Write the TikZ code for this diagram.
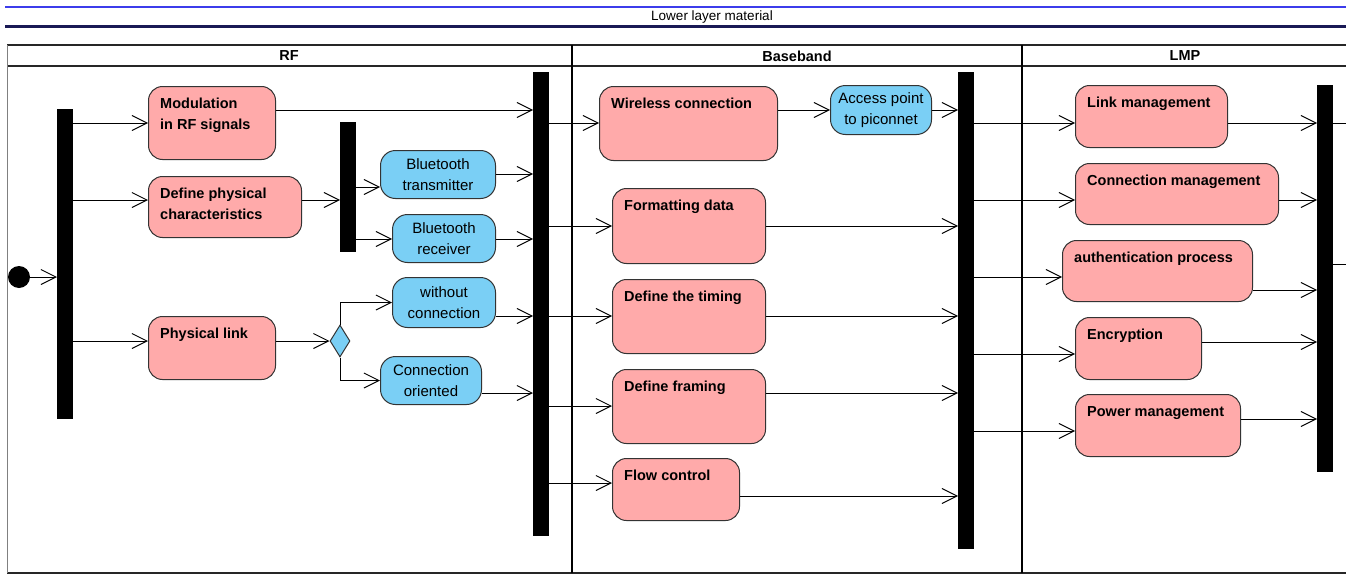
\documentclass[tikz,border=0pt]{standalone}
\usepackage{fontspec}
\setmainfont{Liberation Sans}
\usetikzlibrary{arrows.meta,shapes.geometric}
\definecolor{actpink}{RGB}{255,170,170}
\definecolor{objblue}{RGB}{122,207,245}
\definecolor{edgegray}{RGB}{51,51,51}
\definecolor{titleblue}{RGB}{60,60,235}
\definecolor{titlenavy}{RGB}{25,25,85}
\tikzset{
  act/.style={draw=edgegray, line width=1pt, fill=actpink, rounded corners=14pt, anchor=north west, inner sep=0pt},
  acttext/.style={anchor=north west, inner sep=0pt, align=left, font=\fontsize{14.5}{20.5}\selectfont\bfseries},
  obj/.style={draw=edgegray, line width=1pt, fill=objblue, rounded corners=15pt, anchor=north west, inner sep=0pt, align=center, font=\fontsize{15}{21}\selectfont},
  bar/.style={fill=black, anchor=north west, minimum width=16pt, inner sep=0pt},
  lanehead/.style={font=\fontsize{14.5}{17}\selectfont\bfseries},
  flow/.style={line width=1pt, -{Straight Barb[length=15pt,width=15pt]}},
  plain/.style={line width=1pt},
}
\begin{document}
\begin{tikzpicture}[x=1pt,y=-1pt]
    \useasboundingbox (0,0) rectangle (1351,578);
    \draw[titleblue, line width=2.5pt] (5,7) -- (1346,7);
    \node[font=\fontsize{13.5}{16}\selectfont] (title) at (712,17) {Lower layer material};
    \draw[titlenavy, line width=3pt] (5,27) -- (1346,27);
    \draw[black!85, line width=2pt] (7,45) -- (1346,45);
    \draw[black!85, line width=2.5pt] (7,66) -- (1346,66);
    \draw[black!85, line width=2pt] (7,573) -- (1346,573);
    \draw[black!50, line width=1pt] (7,45) -- (7,573);
    \draw[black, line width=2pt] (572,45) -- (572,573);
    \draw[black, line width=2pt] (1022,45) -- (1022,573);
    \node[lanehead] (rf) at (289,56) {RF};
    \node[lanehead] (bb) at (797,56) {Baseband};
    \node[lanehead] (lmp) at (1185,56) {LMP};

    \node[circle, fill=black, minimum size=22pt, inner sep=0pt] (start) at (19,277) {};
    \node[bar, minimum height=310pt] (bar1) at (57,109) {};
    \node[bar, minimum height=130pt] (bar3) at (340,122) {};
    \node[bar, minimum height=464pt] (bar2) at (533,72) {};
    \node[bar, minimum height=477pt] (bar4) at (958,72) {};
    \node[bar, minimum height=387pt] (bar5) at (1317,85) {};

    \node[act, minimum width=127pt, minimum height=73pt] (mod) at (148,86) {};
    \node[act, minimum width=153pt, minimum height=61pt] (dpc) at (148,176) {};
    \node[act, minimum width=127pt, minimum height=63pt] (pl) at (148,316) {};
    \node[act, minimum width=178pt, minimum height=74pt] (wc) at (599,86) {};
    \node[act, minimum width=153pt, minimum height=75pt] (fd) at (612,188) {};
    \node[act, minimum width=153pt, minimum height=74pt] (dt) at (612,279) {};
    \node[act, minimum width=153pt, minimum height=74pt] (dfr) at (612,369) {};
    \node[act, minimum width=127pt, minimum height=62pt] (fc) at (612,458) {};
    \node[act, minimum width=152pt, minimum height=62pt] (lm) at (1075,85) {};
    \node[act, minimum width=203pt, minimum height=61pt] (cm) at (1075,163) {};
    \node[act, minimum width=190pt, minimum height=61pt] (ap) at (1062,240) {};
    \node[act, minimum width=126pt, minimum height=62pt] (enc) at (1075,317) {};
    \node[act, minimum width=165pt, minimum height=62pt] (pm) at (1075,394) {};
    \foreach \n/\t in {mod/{Modulation\\in RF signals}, dpc/{Define physical\\characteristics}, pl/{Physical link},
        wc/{Wireless connection}, fd/{Formatting data}, dt/{Define the timing}, dfr/{Define framing}, fc/{Flow control},
        lm/{Link management}, cm/{Connection management}, ap/{authentication process}, enc/{Encryption}, pm/{Power management}}
        \node[acttext] (\n-t) at ([xshift=12pt,yshift=-12pt]\n.north west) {\t};

    \node[obj, minimum width=115pt, minimum height=48pt] (btt) at (380,150) {Bluetooth\\transmitter};
    \node[obj, minimum width=103pt, minimum height=48pt] (btr) at (392,214) {Bluetooth\\receiver};
    \node[obj, minimum width=103pt, minimum height=50pt] (woc) at (392,277) {without\\connection};
    \node[obj, minimum width=101pt, minimum height=48pt] (co) at (380,356) {Connection\\oriented};
    \node[obj, minimum width=101pt, minimum height=49pt] (acp) at (830,85) {Access point\\to piconnet};
    \node[diamond, aspect=0.6, draw=edgegray, line width=1pt, fill=objblue, minimum width=20pt, minimum height=32pt, inner sep=0pt] (dec) at (340,341) {};

    \coordinate (out1) at (1346,123);
    \coordinate (out2) at (1346,264);

    \draw[flow] (start.east) -- (bar1.west |- start.east);
    \foreach \b/\y in {mod/123, dpc/200, pl/341}
        \draw[flow] (bar1.east |- 0,\y) -- (\b.west |- 0,\y);
    \draw[flow] (mod.east |- 0,110) -- (bar2.west |- 0,110);
    \draw[flow] (dpc.east |- 0,200) -- (bar3.west |- 0,200);
    \draw[flow] (bar3.east |- 0,187) -- (btt.west |- 0,187);
    \draw[flow] (bar3.east |- 0,239) -- (btr.west |- 0,239);
    \draw[flow] (pl.east |- dec.west) -- (dec.west);
    \draw[flow] (dec.north) |- (woc.west);
    \draw[flow] (dec.south) |- (co.west);
    \foreach \b/\y in {btt/174, btr/239, woc/316, co/393}
        \draw[flow] (\b.east |- 0,\y) -- (bar2.west |- 0,\y);

    \foreach \b/\y in {wc/123, fd/226, dt/316, dfr/406, fc/483}
        \draw[flow] (bar2.east |- 0,\y) -- (\b.west |- 0,\y);
    \draw[flow] (wc.east |- 0,110) -- (acp.west |- 0,110);
    \foreach \b/\y in {acp/110, fd/226, dt/316, dfr/393, fc/496}
        \draw[flow] (\b.east |- 0,\y) -- (bar4.west |- 0,\y);

    \foreach \b/\y in {lm/123, cm/200, ap/277, enc/354, pm/431}
        \draw[flow] (bar4.east |- 0,\y) -- (\b.west |- 0,\y);
    \foreach \b/\y in {lm/123, cm/200, ap/290, enc/342, pm/419}
        \draw[flow] (\b.east |- 0,\y) -- (bar5.west |- 0,\y);
    \draw[plain] (bar5.east |- out1) -- (out1);
    \draw[plain] (bar5.east |- out2) -- (out2);
\end{tikzpicture}
\end{document}
